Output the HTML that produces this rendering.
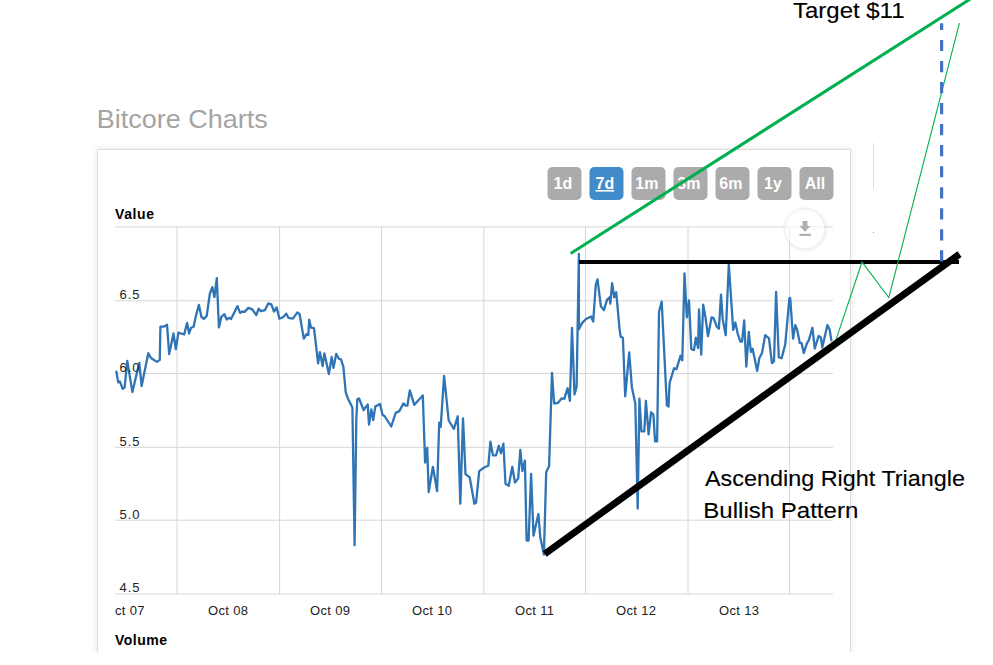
<!DOCTYPE html>
<html><head><meta charset="utf-8">
<style>
html,body{margin:0;padding:0;background:#fff;}
body{width:993px;height:665px;overflow:hidden;position:relative;font-family:"Liberation Sans",sans-serif;}
svg{position:absolute;left:0;top:0;}
</style></head><body>
<svg width="993" height="665" viewBox="0 0 993 665">
<defs>
<linearGradient id="shL" x1="1" x2="0" y1="0" y2="0"><stop offset="0" stop-color="#000" stop-opacity="0.06"/><stop offset="1" stop-color="#000" stop-opacity="0"/></linearGradient>
<linearGradient id="shR" x1="0" x2="1" y1="0" y2="0"><stop offset="0" stop-color="#000" stop-opacity="0.06"/><stop offset="1" stop-color="#000" stop-opacity="0"/></linearGradient>
<filter id="blur1" x="-20%" y="-20%" width="140%" height="140%"><feGaussianBlur stdDeviation="0.9"/></filter>
<filter id="blur4" x="-10%" y="-10%" width="120%" height="120%"><feGaussianBlur stdDeviation="3.5"/></filter>
<clipPath id="clipTop"><rect x="0" y="0" width="993" height="652"/></clipPath>
</defs>
<!-- title -->
<text x="96.8" y="127.9" font-family="Liberation Sans" font-size="25.8" fill="#a4a4a4" textLength="171" lengthAdjust="spacingAndGlyphs">Bitcore Charts</text>
<!-- box -->
<g clip-path="url(#clipTop)"><rect x="97" y="149" width="754" height="560" fill="#000" fill-opacity="0.09" filter="url(#blur4)"/></g>
<rect x="97" y="149" width="754" height="503" fill="#fff"/>
<path d="M97.5,652 V149.5 H850.5 V652" fill="none" stroke="#dcdcdc" stroke-width="1"/>
<line x1="873.5" y1="143" x2="873.5" y2="189" stroke="#ddd" stroke-width="1"/>
<rect x="873" y="232" width="1" height="1" fill="#999"/>
<!-- grid -->
<g stroke="#d6d6d6" stroke-width="1">
<line x1="115" y1="226.9" x2="833" y2="226.9"/>
<line x1="115" y1="300.8" x2="833" y2="300.8"/>
<line x1="115" y1="373.5" x2="833" y2="373.5"/>
<line x1="115" y1="447.3" x2="833" y2="447.3"/>
<line x1="115" y1="520.2" x2="833" y2="520.2"/>
<line x1="115" y1="594.0" x2="833" y2="594.0"/>
<line x1="177" y1="227" x2="177" y2="594"/>
<line x1="279.6" y1="227" x2="279.6" y2="594"/>
<line x1="381.5" y1="227" x2="381.5" y2="594"/>
<line x1="483.8" y1="227" x2="483.8" y2="594"/>
<line x1="585.5" y1="227" x2="585.5" y2="594"/>
<line x1="688" y1="227" x2="688" y2="594"/>
<line x1="789.6" y1="227" x2="789.6" y2="594"/>
</g>
<!-- buttons -->
<g font-family="Liberation Sans" font-size="16" font-weight="bold" fill="#fff" text-anchor="middle">
<rect x="547.5" y="167" width="34" height="33" rx="5" fill="#ababab"/>
<rect x="589.5" y="167" width="34" height="33" rx="5" fill="#428bca"/>
<rect x="631.5" y="167" width="34" height="33" rx="5" fill="#ababab"/>
<rect x="673.5" y="167" width="34" height="33" rx="5" fill="#ababab"/>
<rect x="715.5" y="167" width="34" height="33" rx="5" fill="#ababab"/>
<rect x="757.5" y="167" width="34" height="33" rx="5" fill="#ababab"/>
<rect x="799.5" y="167" width="34" height="33" rx="5" fill="#ababab"/>
<text x="562.9" y="189">1d</text>
<text x="604.9" y="189" text-decoration="underline">7d</text>
<text x="646.9" y="189">1m</text>
<text x="688.9" y="189">3m</text>
<text x="730.9" y="189">6m</text>
<text x="772.9" y="189">1y</text>
<text x="814.9" y="189">All</text>
</g>
<!-- download button -->
<circle cx="805.2" cy="229.4" r="20.3" fill="none" stroke="#000" stroke-opacity="0.10" stroke-width="1.6" filter="url(#blur1)"/>
<circle cx="804.5" cy="228.6" r="20.3" fill="#fff" fill-opacity="0.55" stroke="#ececec" stroke-width="0.8"/>
<g fill="#b0b0b0">
<rect x="802.5" y="221" width="5" height="5.5"/>
<path d="M799.5,226 H810.5 L805,231.8 Z"/>
<rect x="799.5" y="233.8" width="11.5" height="2.2"/>
</g>
<!-- data line -->
<path d="M116.4,371.7 L118.2,382.4 L119.8,381.4 L122.7,388.9 L124.6,387.3 L127.3,360.9 L132.4,392.1 L139.3,362.8 L141.6,386.1 L148.3,353.2 L151,358 L156.9,361.9 L159.8,359.9 L160.4,326.7 L163.7,326.7 L167,324.7 L169.2,354.1 L173.5,333.5 L175.8,349.2 L178.4,332.6 L184.2,334.5 L187.1,322.8 L189.1,333.5 L191.1,327.7 L193.6,326.7 L195.9,315.9 L198.9,304.8 L201.4,316.9 L203.8,318.9 L206.7,315.9 L209.9,293.5 L212.3,287.1 L214.4,297.1 L216.8,278.1 L218.9,327.4 L221.3,316.9 L224.4,314.2 L226.7,319.6 L228.9,317.8 L231,319.1 L234.3,312.4 L237.5,306.1 L240.1,312.9 L242.4,311.5 L244.7,311.9 L248.4,307.9 L252.3,309.3 L256.3,315.1 L258.6,308.8 L261,311.1 L265,310.1 L268.2,303.4 L271.3,304.3 L274,311.5 L276.7,307.5 L279.4,318.7 L283,317.3 L286.3,313.7 L288.4,317.8 L292.9,318.7 L297.4,312.4 L299.6,314.2 L303.8,338.6 L306.5,334.1 L308.3,335 L309.2,319.6 L311,327.7 L314,328.1 L318.1,363.3 L319.9,352.1 L322.6,366 L324.4,353.4 L328.9,374.1 L331.7,357 L333.5,367.8 L336.2,353.9 L338.9,358.8 L341,359.3 L343.4,366.9 L345.7,392.2 L347.9,398.5 L352.4,407.5 L354.6,545.3 L356.3,420 L357.3,399.4 L359.1,398.5 L363.6,410.2 L367.7,404.4 L369,424.7 L371.3,409.3 L373.2,420.1 L375.3,406.6 L380,403.9 L382.5,414.7 L384.9,416.5 L391.2,426.5 L395.7,412.9 L399.3,411.1 L403.5,403.4 L405.6,405.7 L407.4,405.7 L409.8,390.4 L414.3,404.8 L422.8,395.4 L425.1,462.6 L427.2,447.9 L428.7,492.1 L432.9,466.8 L437.1,491.1 L439.2,422.6 L440.7,426.8 L444.1,375.9 L448.7,420.5 L453.9,428.9 L457.7,416.3 L460.3,503.7 L463,418.4 L465.5,474.2 L469.7,477.4 L474.4,503.7 L476.1,502.6 L479.2,471.1 L484.5,467.3 L488.3,465.8 L490.4,441.6 L492.9,455.3 L496.1,455.3 L498.8,445.8 L500.9,453.2 L503.4,443.7 L505.5,483.7 L508.7,485.8 L512.3,466.8 L515,482.6 L518.2,478.4 L520.3,450 L522.4,471.1 L524.9,460.5 L526.6,540.5 L528.6,540.5 L531.1,474 L533.5,535.6 L538.4,514.1 L540.3,537.5 L543.9,554.5 L546.2,472 L549.1,466.2 L552,372.8 L554.1,403.5 L557.9,402.9 L561.7,398.3 L564.3,398.8 L567.6,388.1 L569.9,400.9 L572,328 L574.5,394.5 L576.6,386.8 L578.9,253.8 L578.9,329.3 L582.2,322.9 L586,319 L591.2,316.5 L593.2,321.6 L595.8,284.5 L597.5,279.4 L600.9,306.3 L603.9,310.1 L607,299.9 L609.6,297.3 L610.3,303.7 L612.1,283.2 L614.2,297.3 L616.2,292.2 L619.5,328.7 L620.6,336.6 L622.9,337.7 L625.2,396.4 L629.2,352.4 L631.9,387.4 L635.3,403.2 L637.7,508.6 L639.4,398.7 L641.4,431.4 L644.3,431.4 L645.9,400.9 L648.6,434.3 L651.1,412.2 L653.4,414.5 L655.1,441.4 L657.1,441.4 L659,311.8 L661.7,301.6 L666.9,405.4 L668.5,406.6 L669.6,382.9 L674.1,368.2 L676.4,369.3 L680.5,355.8 L682.3,360.3 L684.5,273.4 L686.8,317.4 L689,300.5 L691.3,349 L694,350.1 L695.8,337.7 L698.1,347.9 L699,309.5 L701.2,354.7 L703.2,304.7 L705.3,316.2 L708,336.2 L711.6,317.3 L713.7,318.3 L716.8,326.7 L718.9,328.8 L721,294.6 L722.7,319.4 L725.7,335.2 L728.8,264.3 L733.2,329.9 L735.3,322.5 L737.8,334.1 L740.4,341.5 L742.1,341.5 L744.2,320.4 L746.3,366.7 L748.8,332 L750.9,352 L752.6,348.8 L757.2,370.9 L759.3,358.3 L762,353 L765.2,335.2 L769,338.3 L771.9,363.1 L774,361.4 L776.1,292 L778.8,357.2 L781.6,358.3 L785.2,344.6 L789.4,298.4 L790.2,298 L793.1,338.6 L795.3,325.1 L797.1,329.6 L799.8,343.1 L801.6,343.1 L803.8,353 L807,343.1 L808.8,340.4 L812.4,327.8 L814.8,348.5 L818.7,335.9 L820.9,337.7 L822.3,347.6 L827.4,325.1 L829.6,329.6 L831.4,340.4" fill="none" stroke="#2f74b5" stroke-width="2.3" stroke-linejoin="round" stroke-linecap="round"/>
<!-- labels -->
<g font-family="Liberation Sans" font-size="13" fill="#222" letter-spacing="0.35">
<text x="115" y="219.3" font-weight="bold" font-size="14" fill="#000" letter-spacing="0.6">Value</text>
<text x="119.5" y="298.8" letter-spacing="1">6.5</text>
<text x="119.5" y="371.8" letter-spacing="1">6.0</text>
<text x="119.5" y="445.8" letter-spacing="1">5.5</text>
<text x="119.5" y="518.8" letter-spacing="1">5.0</text>
<text x="119.5" y="591.8" letter-spacing="1">4.5</text>
<text x="115" y="615">ct 07</text>
<text x="208" y="615">Oct 08</text>
<text x="310" y="615">Oct 09</text>
<text x="412" y="615">Oct 10</text>
<text x="515" y="615">Oct 11</text>
<text x="616" y="615">Oct 12</text>
<text x="719" y="615">Oct 13</text>
<text x="115" y="645" font-weight="bold" font-size="14" fill="#000" letter-spacing="0.5">Volume</text>
</g>
<!-- annotations -->
<line x1="570.6" y1="253.5" x2="1000" y2="-19.9" stroke="#00b050" stroke-width="3"/>
<line x1="579" y1="262" x2="959" y2="262" stroke="#000" stroke-width="4"/>
<polyline points="835.2,342.2 862,262 888.8,297.6 959.4,23.1" fill="none" stroke="#00b050" stroke-width="1.1"/>
<line x1="941.6" y1="261.5" x2="941.6" y2="23.2" stroke="#4472c4" stroke-width="3.2" stroke-dasharray="11.2,9.84"/>
<line x1="544.7" y1="554" x2="959.5" y2="254.1" stroke="#000" stroke-width="6.9"/>
<g font-family="Liberation Sans" fill="#000" stroke="#000" stroke-width="0.12">
<text x="793" y="18" font-size="22.5" textLength="111.5" lengthAdjust="spacingAndGlyphs">Target $11</text>
<text x="705" y="485.8" font-size="22.8" textLength="260" lengthAdjust="spacingAndGlyphs">Ascending Right Triangle</text>
<text x="703.3" y="517.6" font-size="22.8" textLength="155" lengthAdjust="spacingAndGlyphs">Bullish Pattern</text>
</g>
</svg>
</body></html>
